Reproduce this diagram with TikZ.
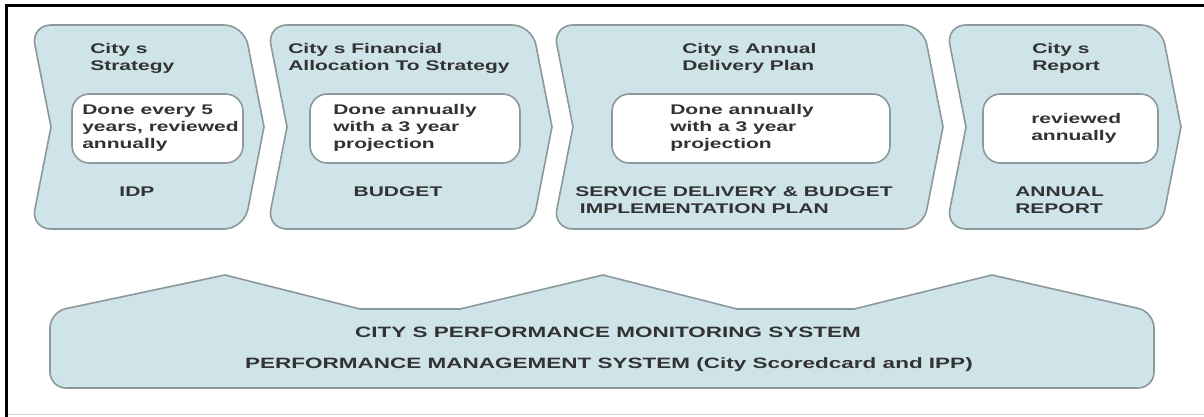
\documentclass[tikz,border=0pt]{standalone}
\usepackage{fontspec}
\setmainfont{Liberation Sans}[FakeStretch=1.5]
\definecolor{chevfill}{RGB}{206,228,233}
\definecolor{chevline}{RGB}{140,152,156}
\definecolor{txt}{RGB}{50,50,50}
\begin{document}
\begin{tikzpicture}[x=0.75pt,y=-0.75pt,
  chev/.style={fill=chevfill,draw=chevline,line width=1.2pt},
  inbox/.style={fill=white,draw=chevline,line width=1.2pt,rounded corners=13pt},
  lbl/.style={font=\fontsize{10.5pt}{12.75pt}\selectfont\bfseries,text=txt,inner sep=0pt,align=left},
  lblb/.style={font=\fontsize{11.25pt}{13pt}\selectfont\bfseries,text=txt,inner sep=0pt,align=center}]
\useasboundingbox (0,0) rectangle (1204,417);
\fill[white] (0,0) rectangle (1204,417);
% frame
\draw[black,line width=2.6pt] (1204,5.5) -- (6.5,5.5) -- (6.5,417);
\draw[black!18,line width=0.8pt] (8,414.5) -- (1204,414.5);
% chevrons
\foreach \L/\R in {31/244, 267/532, 553/923, 946/1161} {
  \draw[chev] ({(\L+\R)/2},25) [rounded corners=15pt] -- (\R,25)
     [sharp corners] -- ({\R+20},127)
     [rounded corners=15pt] -- (\R,229) -- (\L,229)
     [sharp corners] -- ({\L+20},127)
     [rounded corners=15pt] -- (\L,25) -- cycle;
}
% inner boxes
\path[inbox] (72,94) rectangle (243,163);
\path[inbox] (310,94) rectangle (520,163);
\path[inbox] (612,94) rectangle (890,163);
\path[inbox] (983,94) rectangle (1158,163);
% titles
\node[lbl,anchor=west] (t1) at (90,58) {City s\\Strategy};
\node[lbl,anchor=west] (t2) at (288,58) {City s Financial\\Allocation To Strategy};
\node[lbl,anchor=west] (t3) at (682,58) {City s Annual\\Delivery Plan};
\node[lbl,anchor=west] (t4) at (1032,58) {City s\\Report};
% box texts
\node[lbl,anchor=west] (d1) at (82,128) {Done every 5\\years, reviewed\\annually};
\node[lbl,anchor=west] (d2) at (333,128) {Done annually\\with a 3 year\\projection};
\node[lbl,anchor=west] (d3) at (670,128) {Done annually\\with a 3 year\\projection};
\node[lbl,anchor=west] (d4) at (1031,128) {reviewed\\annually};
% bottom labels
\node[lbl] (n1) at (137,192) {IDP};
\node[lbl] (n2) at (398,192) {BUDGET};
\node[lbl,anchor=west] (n3) at (575,200) {SERVICE DELIVERY \& BUDGET\\\hspace*{3.5pt}IMPLEMENTATION PLAN};
\node[lbl,anchor=west] (n4) at (1015,200) {ANNUAL\\REPORT};
% performance shape
\draw[chev] (600,388) [rounded corners=12pt] -- (50,388) -- (50,312)
   [sharp corners] -- (225,275) -- (360,309) -- (460,309) -- (603,275) -- (737,309) -- (854,309)
   -- (992,275) [rounded corners=12pt] -- (1154,312) -- (1154,388) -- cycle;
\node[lblb] (p1) at (608,332) {CITY S PERFORMANCE MONITORING SYSTEM};
\node[lblb] (p2) at (609,365) {PERFORMANCE MANAGEMENT SYSTEM (City Scoredcard and IPP)};
\end{tikzpicture}
\end{document}
